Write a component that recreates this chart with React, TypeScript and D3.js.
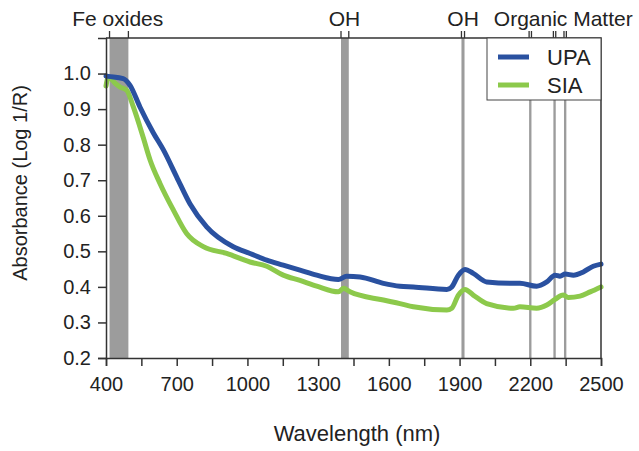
import React, { useEffect, useRef } from 'react';
import * as d3 from 'd3';

// spectra (nm, log 1/R)
const wavelengthUPA = [400, 410, 473, 502, 544, 601, 643, 700, 756, 827, 940, 1011, 1082, 1152, 1223, 1294, 1386, 1421, 1478, 1577, 1647, 1704, 1846, 1867, 1895, 1923, 1958, 2015, 2128, 2156, 2227, 2270, 2305, 2326, 2348, 2383, 2425, 2467, 2500];
const absorbanceUPA = [0.993, 0.992, 0.986, 0.967, 0.906, 0.833, 0.786, 0.709, 0.634, 0.569, 0.513, 0.494, 0.475, 0.461, 0.447, 0.433, 0.421, 0.43, 0.428, 0.41, 0.402, 0.4, 0.393, 0.4, 0.433, 0.449, 0.438, 0.414, 0.41, 0.41, 0.402, 0.414, 0.433, 0.43, 0.436, 0.433, 0.442, 0.458, 0.464];

const wavelengthSIA = [400, 410, 440, 460, 488, 516, 558, 587, 629, 686, 742, 813, 912, 1011, 1082, 1152, 1223, 1294, 1386, 1407, 1435, 1577, 1647, 1704, 1846, 1867, 1895, 1923, 1958, 2015, 2128, 2156, 2227, 2270, 2305, 2340, 2361, 2411, 2454, 2500];
const absorbanceSIA = [0.965, 0.99, 0.972, 0.962, 0.953, 0.906, 0.82, 0.757, 0.691, 0.616, 0.55, 0.513, 0.494, 0.47, 0.458, 0.433, 0.418, 0.402, 0.386, 0.396, 0.386, 0.363, 0.353, 0.344, 0.335, 0.34, 0.377, 0.393, 0.377, 0.353, 0.34, 0.344, 0.34, 0.349, 0.365, 0.377, 0.37, 0.374, 0.386, 0.4];

// absorption bands
const bandStart = [415, 1397, 1908, 2195, 2298, 2343];
const bandEnd = [495, 1430, 1921, 2205, 2308, 2353];
const regionLabels = ['Fe oxides', 'OH', 'OH', 'Organic Matter'];
const regionLabelAt = [450, 1412, 1915, 2340];

const xTicks = [400, 550, 700, 850, 1000, 1150, 1300, 1450, 1600, 1750, 1900, 2050, 2200, 2350, 2500];
const xLabelled = [400, 700, 1000, 1300, 1600, 1900, 2200, 2500];
const yTicks = [0.2, 0.3, 0.4, 0.5, 0.6, 0.7, 0.8, 0.9, 1.0];

const seriesNames = ['UPA', 'SIA'];
const seriesColors = ['#2a51a0', '#8cc94b'];

const W = 639, H = 451;
const left = 106, right = 601, top = 38, bottom = 358;
const font = 'Liberation Sans, Arial, sans-serif';

export default function App() {
  const ref = useRef<SVGSVGElement>(null);

  useEffect(() => {
    const svg = d3.select(ref.current);
    svg.selectAll('*').remove();

    const x = d3.scaleLinear().domain([400, 2500]).range([left, right]);
    const y = d3.scaleLinear().domain([0.2, 1.1]).range([bottom, top]);

    // gray bands
    svg.append('g').selectAll('rect')
      .data(bandStart)
      .join('rect')
      .attr('x', (d) => x(d))
      .attr('width', (d, i) => x(bandEnd[i]) - x(d))
      .attr('y', top)
      .attr('height', bottom - top)
      .attr('fill', '#9c9c9c');

    // small marks above the frame at band edges
    const edges = bandStart.concat(bandEnd);
    svg.append('g').selectAll('line')
      .data(edges)
      .join('line')
      .attr('x1', (d) => x(d)).attr('x2', (d) => x(d))
      .attr('y1', top - 7).attr('y2', top)
      .attr('stroke', '#333').attr('stroke-width', 1.3);

    svg.append('g').selectAll('text')
      .data(regionLabels)
      .join('text')
      .attr('x', (d, i) => x(regionLabelAt[i]))
      .attr('y', 26)
      .attr('text-anchor', 'middle')
      .attr('font-size', 21)
      .attr('font-family', font)
      .attr('fill', '#222')
      .text((d) => d);

    // curves
    const line = d3.line<[number, number]>()
      .x((d) => x(d[0]))
      .y((d) => y(d[1]))
      .curve(d3.curveMonotoneX);

    const series: [number, number][][] = [
      wavelengthUPA.map((w, i) => [w, absorbanceUPA[i]]),
      wavelengthSIA.map((w, i) => [w, absorbanceSIA[i]]),
    ];
    // SIA drawn first so UPA sits on top
    [1, 0].forEach((k) => {
      svg.append('path')
        .attr('d', line(series[k]))
        .attr('fill', 'none')
        .attr('stroke', seriesColors[k])
        .attr('stroke-width', 5)
        .attr('stroke-linejoin', 'round')
        .attr('stroke-linecap', 'round');
    });

    // axes
    const xAxis = d3.axisBottom(x)
      .tickValues(xTicks)
      .tickSize(8)
      .tickPadding(11)
      .tickFormat((d) => (xLabelled.includes(+d) ? String(d) : ''));
    const gx = svg.append('g')
      .attr('transform', `translate(0, ${bottom})`)
      .call(xAxis);

    const yAxis = d3.axisLeft(y)
      .tickValues(yTicks)
      .tickSize(8)
      .tickPadding(7)
      .tickFormat(d3.format('.1f'));
    const gy = svg.append('g')
      .attr('transform', `translate(${left}, 0)`)
      .call(yAxis);

    [gx, gy].forEach((g) => {
      g.selectAll('path').attr('stroke', '#333').attr('stroke-width', 1.5);
      g.selectAll('line').attr('stroke', '#333').attr('stroke-width', 1.5);
      g.selectAll('text').attr('font-size', 20).attr('font-family', font).attr('fill', '#222');
    });

    // top and right frame
    svg.append('path')
      .attr('d', `M${left},${top}H${right}V${bottom}`)
      .attr('fill', 'none')
      .attr('stroke', '#333')
      .attr('stroke-width', 1.5);

    // legend
    const lg = svg.append('g');
    lg.append('rect')
      .attr('x', 487).attr('y', top)
      .attr('width', right - 487).attr('height', 62)
      .attr('fill', '#fff').attr('stroke', '#444').attr('stroke-width', 1);
    seriesNames.forEach((name, i) => {
      lg.append('line')
        .attr('x1', 498).attr('x2', 529)
        .attr('y1', 57 + i * 28).attr('y2', 57 + i * 28)
        .attr('stroke', seriesColors[i]).attr('stroke-width', 5);
      lg.append('text')
        .attr('x', 547).attr('y', 65 + i * 28)
        .attr('font-size', 22)
        .attr('font-family', font)
        .attr('fill', '#222')
        .text(name);
    });

    // axis titles
    svg.append('text')
      .attr('x', 357).attr('y', 441)
      .attr('text-anchor', 'middle')
      .attr('font-size', 22)
      .attr('font-family', font)
      .attr('fill', '#222')
      .text('Wavelength (nm)');

    svg.append('text')
      .attr('transform', `translate(27, 183) rotate(-90)`)
      .attr('text-anchor', 'middle')
      .attr('font-size', 20)
      .attr('font-family', font)
      .attr('fill', '#222')
      .text('Absorbance (Log 1/R)');
  }, []);

  return (
    <svg ref={ref} width={W} height={H}
      style={{ position: 'absolute', left: 0, top: 0, background: '#fff' }} />
  );
}
